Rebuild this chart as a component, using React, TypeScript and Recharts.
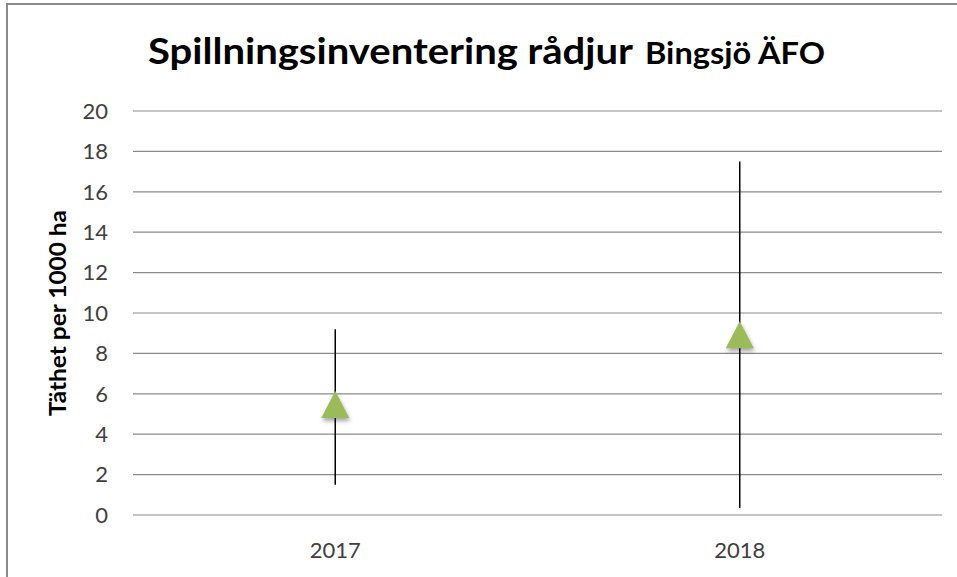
import { CartesianGrid, ComposedChart, ErrorBar, Line, XAxis, YAxis } from "recharts";

const years = ["2017", "2018"];
const means = [5.45, 8.9];
const lower = [1.5, 0.35];
const upper = [9.2, 17.5];
const yTicks = [0, 2, 4, 6, 8, 10, 12, 14, 16, 18, 20];

const TITLE = "Spillningsinventering rådjur";
const SUBTITLE = "Bingsjö ÄFO";
const Y_LABEL = "Täthet per 1000 ha";

const FONT = "Lato, 'Open Sans', sans-serif";
const TICK = { fill: "#404040", fontSize: 22, fontFamily: FONT };

const data = years.map((year, i) => ({
  year,
  value: means[i],
  err: [means[i] - lower[i], upper[i] - means[i]],
}));

function Triangle({ cx, cy }: { cx?: number; cy?: number }) {
  if (cx == null || cy == null) return null;
  return (
    <polygon
      points={`${cx},${cy - 14} ${cx + 14},${cy + 13} ${cx - 14},${cy + 13}`}
      fill="#9BBB59"
      style={{ filter: "drop-shadow(1px 3px 2px rgba(0,0,0,0.35))" }}
    />
  );
}

function YLabel({ viewBox }: any) {
  if (!viewBox) return null;
  const x = viewBox.x + 66;
  const y = viewBox.y + viewBox.height / 2;
  return (
    <text
      x={x}
      y={y}
      transform={`rotate(-90, ${x}, ${y})`}
      textAnchor="middle"
      fontFamily={FONT}
      fontWeight="bold"
      fontSize={23}
      textLength={206}
      lengthAdjust="spacingAndGlyphs"
      fill="#000"
    >
      {Y_LABEL}
    </text>
  );
}

export default function App() {
  return (
    <div
      style={{
        position: "absolute",
        left: 0,
        top: 0,
        width: 957,
        height: 577,
        overflow: "hidden",
        background: "#fff",
      }}
    >
      <div
        style={{
          position: "absolute",
          left: 6,
          top: 3,
          width: 1100,
          height: 700,
          border: "2px solid #8a8a8a",
          boxSizing: "border-box",
        }}
      />
      <svg
        width={957}
        height={100}
        style={{ position: "absolute", left: 0, top: 0 }}
      >
        <text
          x={148}
          y={64}
          fontFamily={FONT}
          fontWeight="bold"
          fontSize={37}
          textLength={485}
          lengthAdjust="spacingAndGlyphs"
          fill="#000"
        >
          {TITLE}
        </text>
        <text
          x={645}
          y={64}
          fontFamily={FONT}
          fontWeight="bold"
          fontSize={30}
          textLength={180}
          lengthAdjust="spacingAndGlyphs"
          fill="#000"
        >
          {SUBTITLE}
        </text>
      </svg>
      <div style={{ position: "absolute", left: 0, top: 0 }}>
        <ComposedChart
          width={957}
          height={577}
          data={data}
          margin={{ top: 111, right: 15, bottom: 2, left: 0 }}
        >
          <CartesianGrid vertical={false} stroke="#8c8c8c" strokeWidth={1.2} />
          <XAxis
            dataKey="year"
            scale="band"
            height={60}
            axisLine={false}
            tickLine={false}
            tickSize={0}
            tickMargin={27}
            tick={TICK}
          />
          <YAxis
            domain={[0, 20]}
            ticks={yTicks}
            width={133}
            axisLine={false}
            tickLine={false}
            tickSize={0}
            tickMargin={25}
            tick={TICK}
            label={{ content: YLabel }}
          />
          <Line
            dataKey="value"
            stroke="none"
            dot={<Triangle />}
            activeDot={false}
            isAnimationActive={false}
          >
            <ErrorBar dataKey="err" direction="y" width={0} stroke="#000" strokeWidth={1.5} />
          </Line>
        </ComposedChart>
      </div>
    </div>
  );
}
